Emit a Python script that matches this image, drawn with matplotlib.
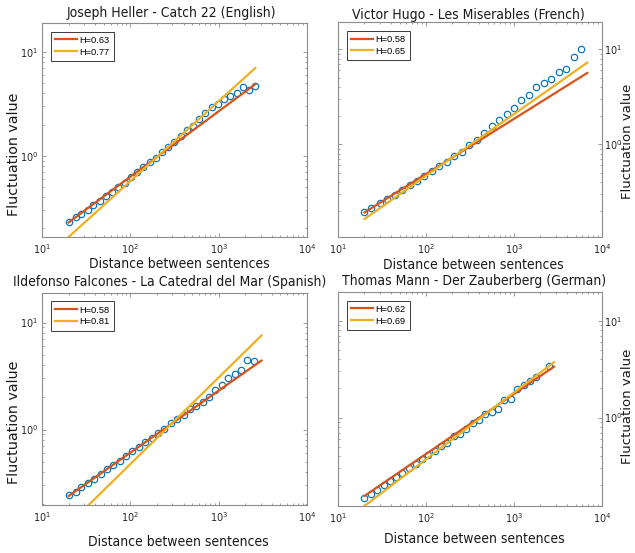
import matplotlib
matplotlib.use("Agg")
import numpy as np
import matplotlib.pyplot as plt
from matplotlib.ticker import LogLocator, NullFormatter

# ---- data -------------------------------------------------------------
titles = [
    "Joseph Heller - Catch 22 (English)",
    "Victor Hugo - Les Miserables (French)",
    "Ildefonso Falcones - La Catedral del Mar (Spanish)",
    "Thomas Mann - Der Zauberberg (German)",
]

scales_heller = [20, 24, 28, 33, 38, 45, 53, 62, 73, 86, 101, 119, 140, 165, 194,
                 228, 268, 315, 370, 435, 512, 602, 708, 833, 979, 1152, 1354,
                 1593, 1873, 2203, 2591]
fluct_heller = [0.230, 0.257, 0.277, 0.303, 0.338, 0.369, 0.406, 0.451, 0.500,
                0.550, 0.624, 0.697, 0.778, 0.869, 0.957, 1.076, 1.211, 1.343,
                1.535, 1.753, 1.94, 2.25, 2.61, 2.92, 3.16, 3.51, 3.80, 4.01,
                4.57, 4.31, 4.74]

scales_hugo = [20, 24, 30, 36, 44, 53, 65, 79, 96, 116, 141, 172, 209, 254, 309,
               376, 457, 556, 676, 822, 999, 1215, 1478, 1797, 2185, 2657, 3231,
               3929, 4778, 5810]
fluct_hugo = [0.192, 0.213, 0.241, 0.264, 0.295, 0.330, 0.370, 0.414, 0.464,
              0.527, 0.586, 0.651, 0.748, 0.830, 0.984, 1.10, 1.315, 1.56, 1.82,
              2.08, 2.39, 2.90, 3.28, 3.98, 4.39, 4.87, 5.81, 6.16, 8.30, 10.2]

scales_falcones = [20, 24, 28, 33, 39, 46, 54, 64, 76, 89, 105, 125, 147, 174,
                   206, 243, 287, 339, 400, 473, 558, 659, 779, 920, 1086, 1283,
                   1515, 1789, 2113, 2495]
fluct_falcones = [0.243, 0.261, 0.288, 0.316, 0.342, 0.386, 0.424, 0.465, 0.510,
                  0.560, 0.624, 0.684, 0.757, 0.842, 0.931, 1.015, 1.16, 1.26,
                  1.38, 1.54, 1.65, 1.81, 2.03, 2.32, 2.61, 3.03, 3.33, 3.60,
                  4.43, 4.37]

scales_mann = [20, 24, 28, 33, 39, 46, 54, 64, 76, 89, 105, 125, 147, 174, 206,
               243, 287, 339, 400, 473, 558, 659, 779, 920, 1086, 1283, 1515,
               1789, 2495]
fluct_mann = [0.149, 0.162, 0.180, 0.200, 0.221, 0.245, 0.270, 0.299, 0.331,
              0.371, 0.407, 0.452, 0.508, 0.551, 0.645, 0.683, 0.757, 0.879,
              0.953, 1.10, 1.135, 1.23, 1.50, 1.56, 1.98, 2.17, 2.41, 2.63, 3.39]

# Hurst exponents of the two power-law fits (small / large scales)
hurst_short = [0.63, 0.58, 0.58, 0.62]
hurst_long = [0.77, 0.65, 0.81, 0.69]
# fitted fluctuation at the smallest scale (s = 20)
fit_level_short = [0.228, 0.192, 0.239, 0.155]
fit_level_long = [0.165, 0.164, 0.129, 0.122]
fit_s0 = 20
fit_s1 = [2600, 6800, 3050, 2850]

y_limits = [(0.165, 19.0), (0.106, 19.4), (0.197, 18.9), (0.122, 19.8)]

scales = [scales_heller, scales_hugo, scales_falcones, scales_mann]
flucts = [fluct_heller, fluct_hugo, fluct_falcones, fluct_mann]

# ---- style ------------------------------------------------------------
C_DATA = "#0072BD"
C_SHORT = "#D95319"
C_LONG = "#EDB120"
C_AXIS = "#8c8c8c"
TXT = ["DejaVu Sans"]
NARROW = ["Liberation Sans Narrow", "Liberation Sans"]

W, H = 635, 553
fig = plt.figure(figsize=(W / 100, H / 100), dpi=100)


def frac(x0, x1, y0, y1):
    return [x0 / W, 1 - y1 / H, (x1 - x0) / W, (y1 - y0) / H]


boxes = [frac(42, 307, 23, 237), frac(338, 602, 22, 237),
         frac(42, 307, 293, 505), frac(338, 602, 292, 506)]
right_side = [False, True, False, True]
title_pos = [(0.487, 4.0), (0.494, 2.2), (0.483, 5.0), (0.515, 5.0)]
xlabel_pos = [(0.518, -0.092), (0.513, -0.097), (0.513, -0.142), (0.517, -0.121)]
ylabel_pos = [(-0.079, 0.388), (1.073, 0.444), (-0.079, 0.389), (1.073, 0.467)]
ylabel_size = [10.3, 9.5, 10.3, 9.5]

for i in range(4):
    ax = fig.add_axes(boxes[i])
    ax.set_xscale("log")
    ax.set_yscale("log")

    s = np.array(scales[i], dtype=float)
    f = np.array(flucts[i], dtype=float)
    ax.plot(s, f, linestyle="none", marker="o", ms=4.6, mfc="none",
            mec=C_DATA, mew=0.85, zorder=2)

    sx = np.array([fit_s0, fit_s1[i]], dtype=float)
    ax.plot(sx, fit_level_short[i] * (sx / fit_s0) ** hurst_short[i],
            color=C_SHORT, lw=1.6, label=f"H={hurst_short[i]:.2f}", zorder=3)
    ax.plot(sx, fit_level_long[i] * (sx / fit_s0) ** hurst_long[i],
            color=C_LONG, lw=1.6, label=f"H={hurst_long[i]:.2f}", zorder=4)

    ax.set_xlim(10, 1e4)
    ax.set_ylim(*y_limits[i])

    ax.xaxis.set_major_locator(LogLocator(base=10, numticks=10))
    ax.xaxis.set_minor_locator(LogLocator(base=10, subs=np.arange(2, 10), numticks=20))
    ax.yaxis.set_minor_locator(LogLocator(base=10, subs=np.arange(2, 10), numticks=20))
    ax.xaxis.set_minor_formatter(NullFormatter())
    ax.yaxis.set_minor_formatter(NullFormatter())

    for sp in ax.spines.values():
        sp.set_color(C_AXIS)
        sp.set_linewidth(0.8)

    ax.tick_params(which="both", direction="in", top=True, bottom=True,
                   left=True, right=True, color=C_AXIS, width=0.6,
                   labelsize=7, labelcolor="#262626",
                   labelfontfamily=NARROW[0])
    ax.tick_params(which="major", length=3.0)
    ax.tick_params(which="minor", length=1.6)
    ax.tick_params(axis="x", pad=4)
    if right_side[i]:
        ax.tick_params(axis="y", pad=1.2, labelleft=False, labelright=True)
        ax.yaxis.set_label_position("right")
    else:
        ax.tick_params(axis="y", pad=2.5)

    tx, tpad = title_pos[i]
    ax.set_title(titles[i], x=tx, pad=tpad, fontsize=10, family=TXT,
                 fontstretch="condensed", color="#1a1a1a")
    ax.set_xlabel("Distance between sentences", fontsize=10, family=TXT,
                  fontstretch="condensed", color="#1a1a1a")
    ax.xaxis.set_label_coords(*xlabel_pos[i])
    ax.set_ylabel("Fluctuation value", fontsize=ylabel_size[i], family=TXT,
                  color="#1a1a1a")
    ax.yaxis.set_label_coords(*ylabel_pos[i])

    leg = ax.legend(loc="upper left", bbox_to_anchor=(0.034, 0.96),
                    borderaxespad=0, prop={"family": NARROW, "size": 6.7},
                    handlelength=2.3, handletextpad=0.3, labelspacing=0.3,
                    borderpad=0.45, fancybox=False, framealpha=1)
    leg.get_frame().set_edgecolor("#3a3a3a")
    leg.get_frame().set_linewidth(0.7)

fig.savefig("out.png", dpi=100)
